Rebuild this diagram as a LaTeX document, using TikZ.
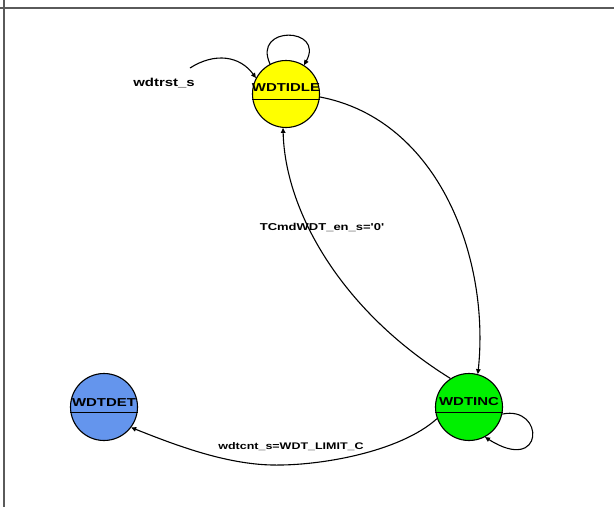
\documentclass[tikz,border=0pt]{standalone}
\usepackage{fontspec}
\usetikzlibrary{arrows.meta}
\newfontfamily\lblfont[FakeStretch=1.3]{Liberation Sans}
\definecolor{idlecol}{RGB}{255,255,0}
\definecolor{inccol}{RGB}{0,240,0}
\definecolor{detcol}{RGB}{100,149,237}
\definecolor{framecol}{RGB}{90,90,90}
\begin{document}
\begin{tikzpicture}[x=1pt,y=-1pt,
  state/.style={circle,draw=black,line width=1.1pt,minimum size=67pt,inner sep=0pt},
  statelbl/.style={font=\lblfont\bfseries\fontsize{11.5}{11.5}\selectfont,inner sep=0pt},
  edgelbl/.style={font=\lblfont\bfseries\fontsize{10}{10}\selectfont,inner sep=0pt},
  trans/.style={draw=black,line width=1.1pt,-{Triangle[length=5pt,width=4.5pt]}},
  chord/.style={draw=black,line width=1.1pt}]
\useasboundingbox (0,0) rectangle (614,507);
\fill[white] (0,0) rectangle (614,507);
% frame
\draw[framecol,line width=1.2pt] (0,8) -- (614,8);
\draw[framecol,line width=1.2pt] (4,0) -- (4,507);
% states
\node[state,fill=idlecol] (idle) at (286,94) {};
\node[state,fill=inccol] (inc) at (469,407) {};
\node[state,fill=detcol] (det) at (104,407) {};
\draw[chord] (idle.190) -- (idle.-10);
\draw[chord] (inc.190) -- (inc.-10);
\draw[chord] (det.190) -- (det.-10);
\node[statelbl] (idlet) at (286,88) {WDTIDLE};
\node[statelbl] (inct) at (469,402) {WDTINC};
\node[statelbl] (dett) at (104,403) {WDTDET};
% initial transition
\coordinate (init) at (190,68);
\draw[trans] (init) .. controls (215,52) and (240,56) .. (idle.152);
\node[edgelbl,font=\lblfont\bfseries\fontsize{11.5}{11.5}\selectfont] (l0) at (164,83) {wdtrst\_s};
% idle self loop
\draw[trans] (idle.118) .. controls (252,25) and (325,27) .. (idle.58);
% idle -> inc
\draw[trans] (idle.-5) .. controls (440,120) and (490,260) .. (inc.75);
% inc -> idle
\draw[trans] (inc.123) .. controls (340,310) and (285,210) .. (idle.-95);
\node[edgelbl] (l1) at (322,227) {TCmdWDT\_en\_s='0'};
% inc self loop
\draw[trans] (inc.-12) .. controls (545,405) and (545,475) .. (inc.-62);
% inc -> det
\draw[trans] (inc.200) .. controls (400,452) and (320,466) .. (272,465)
  .. controls (225,464) and (175,445) .. (det.-37);
\node[edgelbl,font=\lblfont\bfseries\fontsize{9.6}{9.6}\selectfont] (l2) at (291,447) {wdtcnt\_s=WDT\_LIMIT\_C};
\end{tikzpicture}
\end{document}
